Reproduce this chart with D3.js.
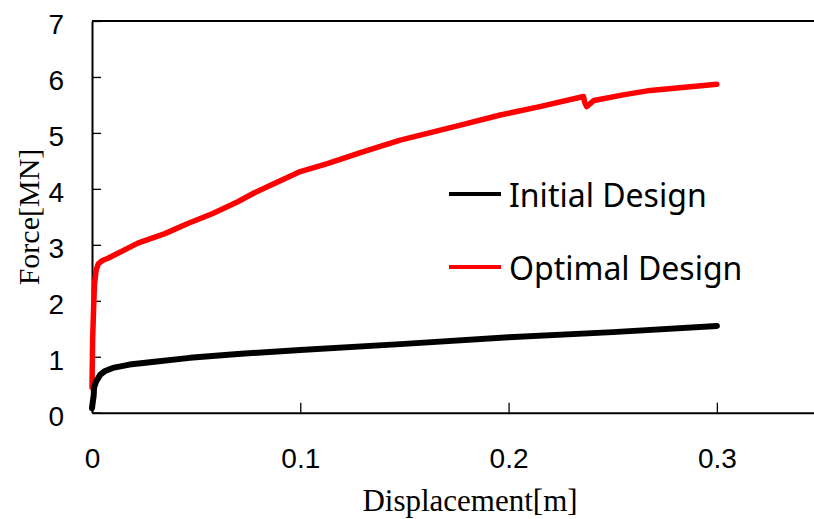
<!DOCTYPE html>
<html>
<head>
<meta charset="utf-8">
<script src="https://cdn.jsdelivr.net/npm/d3@7"></script>
<style>
body{margin:0;background:#fff;}
svg{display:block;overflow:hidden;}
</style>
</head>
<body>
<svg id="chart"></svg>
<script>
// Initial Design curve
var initialDisp=[0,0.0004,0.0008,0.001,0.002,0.004,0.006,0.01,0.018,0.03,0.047,0.07,0.1,0.15,0.2,0.25,0.3];
var initialForce=[0.08,0.2,0.3,0.45,0.56,0.68,0.74,0.8,0.86,0.91,0.98,1.05,1.12,1.23,1.35,1.44,1.55];

// Optimal Design curve
var optimalDisp=[0,0.0003,0.0008,0.0012,0.002,0.003,0.005,0.0077,0.022,0.035,0.046,0.058,0.07,0.078,0.086,0.1,0.113,0.13,0.148,0.175,0.196,0.215,0.236,0.2365,0.2375,0.241,0.255,0.268,0.286,0.3];
var optimalForce=[0.45,1.3,1.9,2.3,2.55,2.66,2.72,2.76,3.03,3.2,3.38,3.56,3.77,3.93,4.07,4.31,4.45,4.66,4.87,5.12,5.32,5.47,5.65,5.55,5.47,5.58,5.68,5.76,5.82,5.87];

var xTicks=[0,0.1,0.2,0.3];
var yTicks=[0,1,2,3,4,5,6,7];
var seriesNames=["Initial Design","Optimal Design"];
var seriesColors=["#000000","#ff0000"];

var width=814;
var height=519;
var plotLeft=92, plotTop=21, plotRight=821, plotBottom=412.7;

var svg=d3.select("#chart")
.attr("width",width)
.attr("height",height);

var x=d3.scaleLinear().domain([0,0.35]).range([plotLeft,plotRight]);
var y=d3.scaleLinear().domain([0,7]).range([plotBottom,plotTop]);

// top border
svg.append("line")
.attr("x1",plotLeft).attr("x2",plotRight)
.attr("y1",plotTop).attr("y2",plotTop)
.attr("stroke","#000").attr("stroke-width",2);

var xAxis=svg.append("g")
.attr("transform","translate(0,"+plotBottom+")")
.call(d3.axisBottom(x).tickValues(xTicks).tickSizeInner(-10).tickSizeOuter(0).tickPadding(35)
  .tickFormat(function(d){return d===0?"0":d3.format(".1f")(d);}));

var yAxis=svg.append("g")
.attr("transform","translate("+plotLeft+",0)")
.call(d3.axisLeft(y).tickValues(yTicks).tickSizeInner(-9).tickSizeOuter(0).tickPadding(28)
  .tickFormat(d3.format("d")));

[xAxis,yAxis].forEach(function(g){
  g.select(".domain").attr("stroke","#000").attr("stroke-width",2);
  g.selectAll(".tick line").attr("stroke","#000").attr("stroke-width",1.3);
  g.selectAll(".tick text")
  .attr("fill","#000")
  .style("font-family","'Liberation Sans', Arial, sans-serif")
  .style("font-size","28px");
});
yAxis.selectAll(".tick text").attr("dy","0.45em");

var line=d3.line()
.x(function(d){return x(d[0]);})
.y(function(d){return y(d[1]);});

var optimalData=optimalDisp.map(function(d,i){return [d,optimalForce[i]];});
var initialData=initialDisp.map(function(d,i){return [d,initialForce[i]];});

svg.append("path")
.datum(optimalData)
.attr("d",line)
.attr("fill","none")
.attr("stroke",seriesColors[1])
.attr("stroke-width",5.5)
.attr("stroke-linejoin","round")
.attr("stroke-linecap","round");

svg.append("path")
.datum(initialData)
.attr("d",line)
.attr("fill","none")
.attr("stroke",seriesColors[0])
.attr("stroke-width",6)
.attr("stroke-linejoin","round")
.attr("stroke-linecap","round");

// legend
var legendY=[194,267];
seriesNames.forEach(function(name,i){
  svg.append("line")
  .attr("x1",449).attr("x2",501)
  .attr("y1",legendY[i]).attr("y2",legendY[i])
  .attr("stroke",seriesColors[i])
  .attr("stroke-width",4);
  svg.append("text")
  .attr("x",509)
  .attr("y",legendY[i]+13)
  .text(name)
  .style("font-family","'Noto Sans', sans-serif")
  .style("font-size","32px")
  .attr("fill","#000");
});

// axis titles
svg.append("text")
.attr("x",470)
.attr("y",511)
.attr("text-anchor","middle")
.text("Displacement[m]")
.style("font-family","'Liberation Serif', 'Times New Roman', serif")
.style("font-size","31px");

svg.append("text")
.attr("transform","translate(39,217) rotate(-90)")
.attr("text-anchor","middle")
.text("Force[MN]")
.style("font-family","'Liberation Serif', 'Times New Roman', serif")
.style("font-size","30px");
</script>
</body>
</html>
